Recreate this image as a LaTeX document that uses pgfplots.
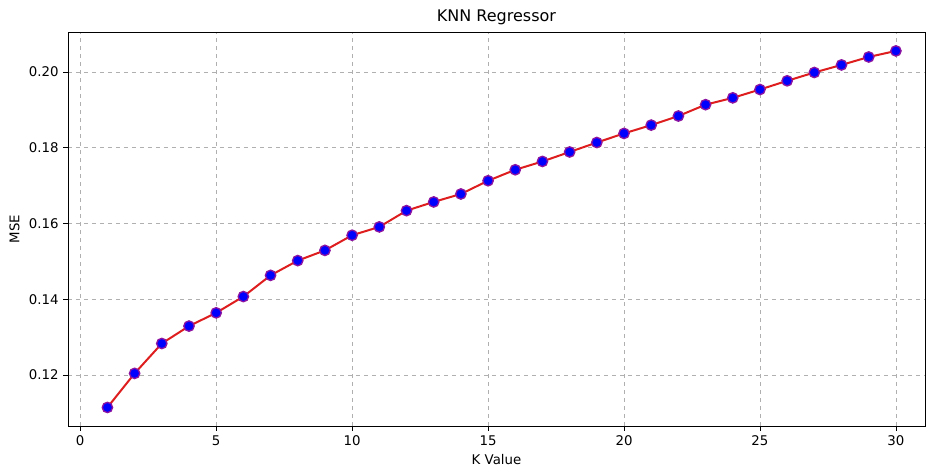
\documentclass[border=0pt]{standalone}
\usepackage{pgfplots}
\pgfplotsset{compat=1.18}
\usepackage{fontspec}
\setmainfont{DejaVu Sans}
\definecolor{edgec}{RGB}{140,20,160}
\definecolor{gridc}{RGB}{176,176,176}
\definecolor{linec}{RGB}{222,30,30}
\begin{document}
\begin{tikzpicture}
\useasboundingbox (-51pt,-31.5pt) rectangle (643.5pt,319.5pt);
\begin{axis}[
  at={(0,0)}, anchor=south west,
  scale only axis, width=642.75pt, height=295.5pt,
  xmin=-0.45, xmax=31.07, ymin=0.1065, ymax=0.2106,
  xtick={0,5,...,30},
  ytick={0.12,0.14,0.16,0.18,0.20},
  yticklabel style={/pgf/number format/.cd, fixed, fixed zerofill, precision=2},
  /pgf/number format/assume math mode=true,
  tick align=outside, tick pos=left,
  major tick length=3.6pt,
  tick style={black, line width=0.6pt},
  axis line style={line width=0.6pt},
  grid=major,
  grid style={gridc, dashed, line width=0.6pt},
  ticklabel style={font=\fontsize{10}{12}\selectfont},
  xlabel={K Value}, ylabel={MSE},
  label style={font=\fontsize{10}{12}\selectfont},
  title={KNN Regressor},
  title style={font=\fontsize{12}{14}\selectfont, yshift=-4.5pt},
]
\addplot[linec, line width=1.5pt, mark=*, mark size=3.9pt,
  mark options={fill=blue, draw=edgec, line width=1pt}] coordinates {
(1,0.1114) (2,0.1204) (3,0.1283) (4,0.1329) (5,0.1364)
(6,0.1407) (7,0.1463) (8,0.1502) (9,0.1529) (10,0.1569)
(11,0.1591) (12,0.1634) (13,0.1657) (14,0.1678) (15,0.1713)
(16,0.1742) (17,0.1764) (18,0.1789) (19,0.1814) (20,0.1838)
(21,0.1860) (22,0.1884) (23,0.1914) (24,0.1932) (25,0.1954)
(26,0.1977) (27,0.1999) (28,0.2019) (29,0.2040) (30,0.2056)
};
\end{axis}
\end{tikzpicture}
\end{document}
